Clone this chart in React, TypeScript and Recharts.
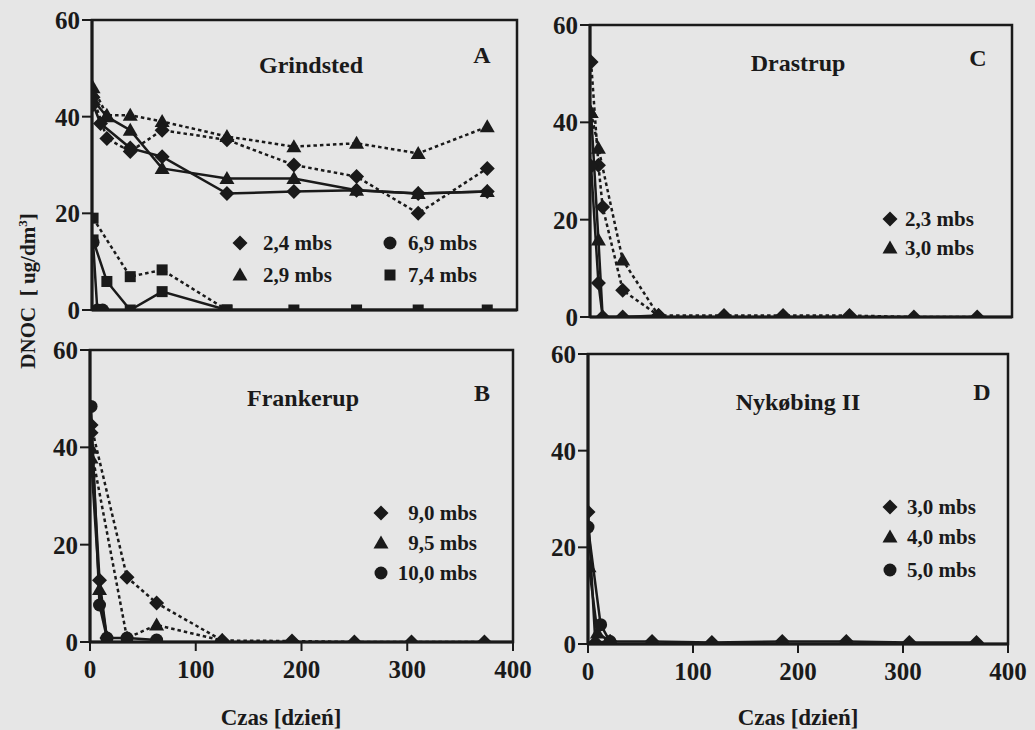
import React from "react";
import { LineChart, Line, XAxis, YAxis, ReferenceArea } from "recharts";

const INK = "#1a1a1a";
const BG = "#e6e6e6";
const FONT = '"Liberation Serif", "Times New Roman", Times, serif';

const Y_TICKS = [0, 20, 40, 60];
const X_TICKS = [0, 100, 200, 300, 400];

/* A: Grindsted */
const A_DAYS = [1, 14, 36, 66, 127, 190, 249, 307, 372];
const A_TRI_DASH = [46, 40.3, 40.3, 39, 35.9, 33.8, 34.5, 32.4, 37.9];
const A_DIA_DASH = [44, 35.5, 32.8, 37.2, 35.2, 30, 27.6, 20, 29.3];
const A_TRI_SOLID = [43.5, 40, 37.2, 29.3, 27.2, 27.2, 24.8, 24.1, 24.5];
const A_DIA_DAYS = [1, 8, 36, 66, 127, 190, 249, 307, 372];
const A_DIA_SOLID = [42.5, 38.6, 33.5, 31.7, 24.1, 24.5, 24.8, 24.1, 24.5];
const A_SQ_DASH_DAYS = [1, 36, 66, 127];
const A_SQ_DASH = [19, 6.9, 8.3, 0];
const A_SQ_SOLID = [14.5, 5.9, 0, 3.8, 0, 0, 0, 0, 0];
const A_CIR_DAYS = [1, 5, 10];
const A_CIR_SOLID = [14, 0, 0];

/* C: Drastrup */
const C_DIA_DASH_DAYS = [1, 8, 12, 31, 65, 127, 183, 246, 307, 367];
const C_DIA_DASH = [52.4, 31.2, 22.6, 5.5, 0.3, 0.3, 0.3, 0.3, 0, 0];
const C_TRI_DASH_DAYS = [1, 8, 31, 65];
const C_TRI_DASH = [42, 34.7, 11.7, 0.3];
const C_TRI_SOLID_DAYS = [1, 8, 12];
const C_TRI_SOLID = [42, 15.8, 0];
const C_DIA_SOLID_DAYS = [1, 8, 12, 31, 65];
const C_DIA_SOLID = [31, 7, 0, 0, 0.3];

/* B: Frankerup */
const B_DIA_DASH_DAYS = [1, 35, 63, 125, 191, 250, 304, 373];
const B_DIA_DASH = [44.6, 13.3, 8, 0.3, 0.2, 0, 0, 0];
const B_TRI_DASH_DAYS = [1, 35, 63, 125];
const B_TRI_DASH = [39.8, 0.8, 3.5, 0.3];
const B_CIR_SOLID_DAYS = [1, 9, 16, 35, 63];
const B_CIR_SOLID = [48.4, 7.6, 0.8, 0.8, 0.4];
const B_SHORT_DAYS = [1, 9, 16];
const B_DIA_SOLID = [43, 12.7, 0.8];
const B_TRI_SOLID = [37.8, 10.8, 0.8];

/* D: Nykøbing II */
const D_DIA_DAYS = [0, 7, 21, 61, 118, 185, 246, 306, 370];
const D_DIA_SOLID = [27.3, 0.3, 0.5, 0.5, 0.3, 0.5, 0.5, 0.3, 0.3];
const D_TRI_DAYS = [1, 9, 21];
const D_TRI_SOLID = [16, 2.3, 0.5];
const D_CIR_DAYS = [0, 12, 21];
const D_CIR_SOLID = [24.2, 4, 0.5];

type Kind = "diamond" | "triangle" | "circle" | "square";
type Series = { days: number[]; vals: number[]; kind: Kind; dashed?: boolean };

const pts = (days: number[], vals: number[]) => days.map((d, i) => ({ d, v: vals[i] }));

function Mark({ kind, cx, cy }: { kind: Kind; cx: number; cy: number }) {
  if (kind === "diamond")
    return <polygon points={`${cx},${cy - 7.5} ${cx + 7.5},${cy} ${cx},${cy + 7.5} ${cx - 7.5},${cy}`} fill={INK} />;
  if (kind === "triangle")
    return <polygon points={`${cx},${cy - 7.5} ${cx + 7.5},${cy + 5.5} ${cx - 7.5},${cy + 5.5}`} fill={INK} />;
  if (kind === "square") return <rect x={cx - 5.5} y={cy - 5.5} width={11} height={11} fill={INK} />;
  return <circle cx={cx} cy={cy} r={6.5} fill={INK} />;
}

function Panel({
  left,
  top,
  width,
  height,
  margin,
  yWidth,
  xHeight,
  labels,
  series,
}: {
  left: number;
  top: number;
  width: number;
  height: number;
  margin: { top: number; right: number; bottom: number; left: number };
  yWidth: number;
  xHeight: number;
  labels: boolean;
  series: Series[];
}) {
  const tick = { fill: INK, fontFamily: FONT, fontWeight: 700 };
  return (
    <div style={{ position: "absolute", left, top }}>
      <LineChart width={width} height={height} margin={margin}>
        <XAxis
          dataKey="d"
          type="number"
          domain={[0, 400]}
          ticks={X_TICKS}
          interval={0}
          tick={labels ? { ...tick, fontSize: 25 } : false}
          tickSize={9}
          tickMargin={9}
          height={xHeight}
          axisLine={{ stroke: INK, strokeWidth: 3 }}
          tickLine={{ stroke: INK, strokeWidth: 2 }}
          allowDataOverflow
        />
        <YAxis
          type="number"
          domain={[0, 60]}
          ticks={Y_TICKS}
          interval={0}
          tick={{ ...tick, fontSize: 25 }}
          tickSize={10}
          tickMargin={2}
          width={yWidth}
          axisLine={{ stroke: INK, strokeWidth: 3 }}
          tickLine={{ stroke: INK, strokeWidth: 2 }}
          allowDataOverflow
        />
        <ReferenceArea x1={0} x2={400} y1={0} y2={60} fill="none" stroke={INK} strokeWidth={2.5} />
        {series.map((s, i) => (
          <Line
            key={i}
            data={pts(s.days, s.vals)}
            dataKey="v"
            type="linear"
            stroke={INK}
            strokeWidth={2.5}
            strokeDasharray={s.dashed ? "3.5 3" : undefined}
            dot={(p: any) => (
              <g key={`m${i}-${p.index}`}>{p.cx != null && <Mark kind={s.kind} cx={p.cx} cy={p.cy} />}</g>
            )}
            activeDot={false}
            isAnimationActive={false}
          />
        ))}
      </LineChart>
    </div>
  );
}

function Text({ x, y, children, size = 24, anchor = "center" }: any) {
  const tx = anchor === "center" ? "-50%" : anchor === "end" ? "-100%" : "0";
  return (
    <div
      style={{
        position: "absolute",
        left: x,
        top: y,
        transform: `translate(${tx}, -50%)`,
        fontFamily: FONT,
        fontWeight: 700,
        fontSize: size,
        lineHeight: 1,
        color: INK,
        whiteSpace: "nowrap",
      }}
    >
      {children}
    </div>
  );
}

function Key({ x, y, kind }: { x: number; y: number; kind: Kind }) {
  return (
    <svg style={{ position: "absolute", left: x - 9, top: y - 9 }} width={18} height={18}>
      <Mark kind={kind} cx={9} cy={9} />
    </svg>
  );
}

const SERIES_A: Series[] = [
  { days: A_DAYS, vals: A_TRI_DASH, kind: "triangle", dashed: true },
  { days: A_DAYS, vals: A_DIA_DASH, kind: "diamond", dashed: true },
  { days: A_DAYS, vals: A_TRI_SOLID, kind: "triangle" },
  { days: A_DIA_DAYS, vals: A_DIA_SOLID, kind: "diamond" },
  { days: A_SQ_DASH_DAYS, vals: A_SQ_DASH, kind: "square", dashed: true },
  { days: A_DAYS, vals: A_SQ_SOLID, kind: "square" },
  { days: A_CIR_DAYS, vals: A_CIR_SOLID, kind: "circle" },
];

const SERIES_C: Series[] = [
  { days: C_DIA_DASH_DAYS, vals: C_DIA_DASH, kind: "diamond", dashed: true },
  { days: C_TRI_DASH_DAYS, vals: C_TRI_DASH, kind: "triangle", dashed: true },
  { days: C_TRI_SOLID_DAYS, vals: C_TRI_SOLID, kind: "triangle" },
  { days: C_DIA_SOLID_DAYS, vals: C_DIA_SOLID, kind: "diamond" },
];

const SERIES_B: Series[] = [
  { days: B_DIA_DASH_DAYS, vals: B_DIA_DASH, kind: "diamond", dashed: true },
  { days: B_TRI_DASH_DAYS, vals: B_TRI_DASH, kind: "triangle", dashed: true },
  { days: B_CIR_SOLID_DAYS, vals: B_CIR_SOLID, kind: "circle" },
  { days: B_SHORT_DAYS, vals: B_DIA_SOLID, kind: "diamond" },
  { days: B_SHORT_DAYS, vals: B_TRI_SOLID, kind: "triangle" },
];

const SERIES_D: Series[] = [
  { days: D_DIA_DAYS, vals: D_DIA_SOLID, kind: "diamond" },
  { days: D_TRI_DAYS, vals: D_TRI_SOLID, kind: "triangle" },
  { days: D_CIR_DAYS, vals: D_CIR_SOLID, kind: "circle" },
];

export default function App() {
  return (
    <div style={{ position: "absolute", left: 0, top: 0, width: 1035, height: 730, background: BG, overflow: "hidden" }}>
      <Panel left={0} top={0} width={530} height={345} margin={{ top: 20, right: 13, bottom: 0, left: 0 }} yWidth={92} xHeight={35} labels={false} series={SERIES_A} />
      <Panel left={500} top={0} width={530} height={352} margin={{ top: 25, right: 18, bottom: 0, left: 0 }} yWidth={90} xHeight={35} labels={false} series={SERIES_C} />
      <Panel left={0} top={330} width={545} height={400} margin={{ top: 20, right: 32, bottom: 38, left: 0 }} yWidth={90} xHeight={50} labels series={SERIES_B} />
      <Panel left={500} top={330} width={535} height={400} margin={{ top: 24, right: 27, bottom: 36, left: 0 }} yWidth={88} xHeight={50} labels series={SERIES_D} />

      <Text x={311} y={65}>Grindsted</Text>
      <Text x={482} y={55}>A</Text>
      <Text x={798} y={63}>Drastrup</Text>
      <Text x={978} y={58}>C</Text>
      <Text x={303} y={398}>Frankerup</Text>
      <Text x={482} y={393}>B</Text>
      <Text x={798} y={402}>Nykøbing II</Text>
      <Text x={982} y={392}>D</Text>

      <Key x={240} y={243} kind="diamond" />
      <Text x={263} y={243} size={21} anchor="start">2,4 mbs</Text>
      <Key x={240} y={275} kind="triangle" />
      <Text x={263} y={275} size={21} anchor="start">2,9 mbs</Text>
      <Key x={390} y={243} kind="circle" />
      <Text x={408} y={243} size={21} anchor="start">6,9 mbs</Text>
      <Key x={390} y={275} kind="square" />
      <Text x={408} y={275} size={21} anchor="start">7,4 mbs</Text>

      <Key x={890} y={219} kind="diamond" />
      <Text x={905} y={219} size={21} anchor="start">2,3 mbs</Text>
      <Key x={890} y={248} kind="triangle" />
      <Text x={905} y={248} size={21} anchor="start">3,0 mbs</Text>

      <Key x={381} y={513} kind="diamond" />
      <Text x={477} y={513} size={21} anchor="end">9,0 mbs</Text>
      <Key x={381} y={543} kind="triangle" />
      <Text x={477} y={543} size={21} anchor="end">9,5 mbs</Text>
      <Key x={381} y={573} kind="circle" />
      <Text x={477} y={573} size={21} anchor="end">10,0 mbs</Text>

      <Key x={890} y={507} kind="diamond" />
      <Text x={907} y={507} size={21} anchor="start">3,0 mbs</Text>
      <Key x={890} y={537} kind="triangle" />
      <Text x={907} y={537} size={21} anchor="start">4,0 mbs</Text>
      <Key x={890} y={570} kind="circle" />
      <Text x={907} y={570} size={21} anchor="start">5,0 mbs</Text>

      <Text x={281} y={717} size={23}>Czas [dzień]</Text>
      <Text x={798} y={717} size={23}>Czas [dzień]</Text>

      <div
        style={{
          position: "absolute",
          left: 27,
          top: 291,
          transform: "translate(-50%, -50%) rotate(-90deg)",
          fontFamily: FONT,
          fontWeight: 700,
          fontSize: 21,
          lineHeight: 1,
          color: INK,
          whiteSpace: "nowrap",
        }}
      >
        DNOC&nbsp;&nbsp;[ ug/dm<sup style={{ fontSize: 13 }}>3</sup>]
      </div>
    </div>
  );
}
